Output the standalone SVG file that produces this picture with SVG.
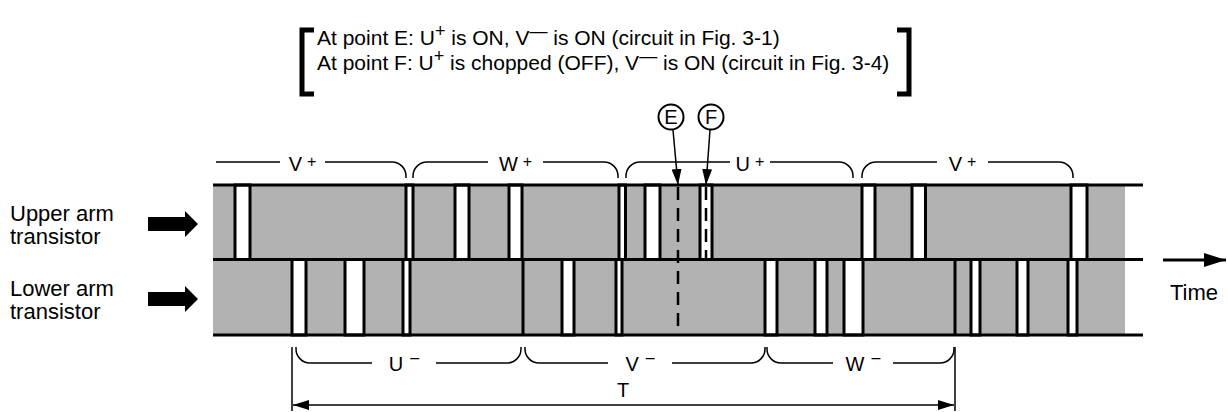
<svg xmlns="http://www.w3.org/2000/svg" width="1228" height="412" viewBox="0 0 1228 412">
<style>
text{font-family:"Liberation Sans",Arial,sans-serif;fill:#000}
.big{font-size:21px}
.bsup{font-size:18px}
.lbl{font-size:22px}
.ph{font-size:20px}
.sup{font-size:16px}
.strip{fill:#b2b2b2}
.w{fill:#fff;stroke:#000;stroke-width:3}
.hl{stroke:#000;stroke-width:3;fill:none}
.vl{stroke:#000;stroke-width:3}
.br{stroke:#000;stroke-width:1.5;fill:none}
.dash{stroke:#000;stroke-width:2.5;stroke-dasharray:13 8}
.con{stroke:#000;stroke-width:1.5;fill:none}
.fat{fill:#000}
</style>
<defs>
<marker id="ah" markerUnits="userSpaceOnUse" viewBox="0 0 16 10" markerWidth="16" markerHeight="10" refX="16" refY="5" orient="auto-start-reverse"><path d="M0,0 L16,5 L0,10 z" fill="#000"/></marker>
<marker id="ahBig" markerUnits="userSpaceOnUse" viewBox="0 0 22 14" markerWidth="22" markerHeight="14" refX="22" refY="7" orient="auto"><path d="M0,0 L22,7 L0,14 z" fill="#000"/></marker>
</defs>

<g id="note">
<path d="M314,30 H302 V94 H314" fill="none" stroke="#000" stroke-width="5"/>
<path d="M897,30 H909 V94 H897" fill="none" stroke="#000" stroke-width="5"/>
<text class="big" x="317" y="45">At point E: U<tspan class="bsup" dy="-8">+</tspan><tspan dy="8"> is ON, V</tspan><tspan class="bsup" dy="-8">—</tspan><tspan dy="8"> is ON (circuit in Fig. 3-1)</tspan></text>
<text class="big" x="317" y="70">At point F: U<tspan class="bsup" dy="-8">+</tspan><tspan dy="8"> is chopped (OFF), V</tspan><tspan class="bsup" dy="-8">—</tspan><tspan dy="8"> is ON (circuit in Fig. 3-4)</tspan></text>
</g>

<g id="upper-label">
<text class="lbl" x="10" y="221">Upper arm</text>
<text class="lbl" x="10" y="244">transistor</text>
</g>
<g id="lower-label">
<text class="lbl" x="10" y="296">Lower arm</text>
<text class="lbl" x="10" y="319">transistor</text>
</g>

<g id="upper-strip">
<rect class="strip" x="213" y="185" width="912" height="74.5"/>
<rect class="w" x="235" y="185" width="15" height="74.5"/>
<rect class="w" x="406" y="185" width="7" height="74.5"/>
<rect class="w" x="455" y="185" width="14" height="74.5"/>
<rect class="w" x="509" y="185" width="13" height="74.5"/>
<rect class="w" x="619" y="185" width="6.5" height="74.5"/>
<rect class="w" x="645" y="185" width="15" height="74.5"/>
<rect class="w" x="700" y="185" width="12" height="74.5"/>
<rect class="w" x="862" y="185" width="13" height="74.5"/>
<rect class="w" x="912" y="185" width="13.5" height="74.5"/>
<rect class="w" x="1071" y="185" width="16" height="74.5"/>
</g>

<g id="lower-strip">
<rect class="strip" x="213" y="259.5" width="912" height="75.5"/>
<rect class="w" x="292" y="259.5" width="14" height="75.5"/>
<rect class="w" x="345" y="259.5" width="19" height="75.5"/>
<rect class="w" x="403" y="259.5" width="7" height="75.5"/>
<line class="vl" x1="523" y1="259.5" x2="523" y2="335"/>
<rect class="w" x="562" y="259.5" width="12" height="75.5"/>
<rect class="w" x="616" y="259.5" width="6" height="75.5"/>
<rect class="w" x="765" y="259.5" width="12" height="75.5"/>
<rect class="w" x="815" y="259.5" width="12" height="75.5"/>
<rect class="w" x="844" y="259.5" width="19" height="75.5"/>
<line class="vl" x1="955" y1="259.5" x2="955" y2="335"/>
<rect class="w" x="971" y="259.5" width="9" height="75.5"/>
<rect class="w" x="1017" y="259.5" width="11" height="75.5"/>
<rect class="w" x="1068" y="259.5" width="9" height="75.5"/>
</g>

<g id="strip-lines">
<line class="hl" x1="213" y1="185" x2="1143" y2="185"/>
<line class="hl" x1="213" y1="259.5" x2="1143" y2="259.5"/>
<line class="hl" x1="213" y1="335" x2="1143" y2="335"/>
<line class="dash" x1="678" y1="187" x2="678" y2="334"/>
<line class="dash" x1="706" y1="187" x2="706" y2="258"/>
</g>

<g id="upper-phases">
<path class="br" d="M216,162 H280 M325,162 H392 A14,14 0 0 1 406,176 V178"/>
<text class="ph" x="302.5" y="171" text-anchor="middle">V<tspan class="sup" dx="5" dy="-4">+</tspan></text>
<path class="br" d="M413,178 V176 A14,14 0 0 1 427,162 H488 M543,162 H604 A14,14 0 0 1 618,176 V178"/>
<text class="ph" x="515.5" y="171" text-anchor="middle">W<tspan class="sup" dx="5" dy="-4">+</tspan></text>
<path class="br" d="M626,178 V176 A14,14 0 0 1 640,162 H730 M770,162 H839 A14,14 0 0 1 853,176 V178"/>
<text class="ph" x="750" y="171" text-anchor="middle">U<tspan class="sup" dx="5" dy="-4">+</tspan></text>
<path class="br" d="M862,178 V176 A14,14 0 0 1 876,162 H937 M988,162 H1059 A14,14 0 0 1 1073,176 V178"/>
<text class="ph" x="962.5" y="171" text-anchor="middle">V<tspan class="sup" dx="5" dy="-4">+</tspan></text>
</g>

<g id="lower-phases">
<path class="br" d="M296,347 V349 A14,14 0 0 0 310,363 H372 M436,363 H507 A14,14 0 0 0 521,349 V347"/>
<text class="ph" x="404" y="371" text-anchor="middle">U<tspan class="sup" dx="7" dy="-8">–</tspan></text>
<path class="br" d="M525,347 V349 A14,14 0 0 0 539,363 H608 M672,363 H751 A14,14 0 0 0 765,349 V347"/>
<text class="ph" x="640" y="371" text-anchor="middle">V<tspan class="sup" dx="7" dy="-8">–</tspan></text>
<path class="br" d="M767,347 V349 A14,14 0 0 0 781,363 H833 M893,363 H940 A14,14 0 0 0 954,349 V347"/>
<text class="ph" x="863" y="371" text-anchor="middle">W<tspan class="sup" dx="7" dy="-8">–</tspan></text>
</g>

<g id="point-E">
<circle cx="671" cy="117" r="12.5" fill="#fff" stroke="#000" stroke-width="2"/>
<text class="ph" x="671" y="124" text-anchor="middle">E</text>
</g>
<g id="point-F">
<circle cx="711" cy="117" r="12.5" fill="#fff" stroke="#000" stroke-width="2"/>
<text class="ph" x="711" y="124" text-anchor="middle">F</text>
</g>

<g id="period">
<text class="ph" x="623" y="397" text-anchor="middle">T</text>
</g>
<g id="time-label">
<text class="lbl" x="1170" y="300">Time</text>
</g>

<g id="connectors">
<line class="con" x1="673" y1="130" x2="678" y2="185" marker-end="url(#ah)"/>
<line class="con" x1="710" y1="130" x2="706" y2="185" marker-end="url(#ah)"/>
<line class="con" x1="292" y1="347" x2="292" y2="411"/>
<line class="con" x1="955" y1="347" x2="955" y2="411"/>
<line class="con" x1="293" y1="405" x2="954" y2="405" marker-start="url(#ah)" marker-end="url(#ah)"/>
<line x1="1163" y1="260" x2="1226" y2="260" stroke="#000" stroke-width="3" marker-end="url(#ahBig)"/>
<polygon class="fat" points="148,217 185,217 185,211 198,224 185,237 185,231 148,231"/>
<polygon class="fat" points="148,292 185,292 185,286 198,299 185,312 185,306 148,306"/>
</g>
</svg>
